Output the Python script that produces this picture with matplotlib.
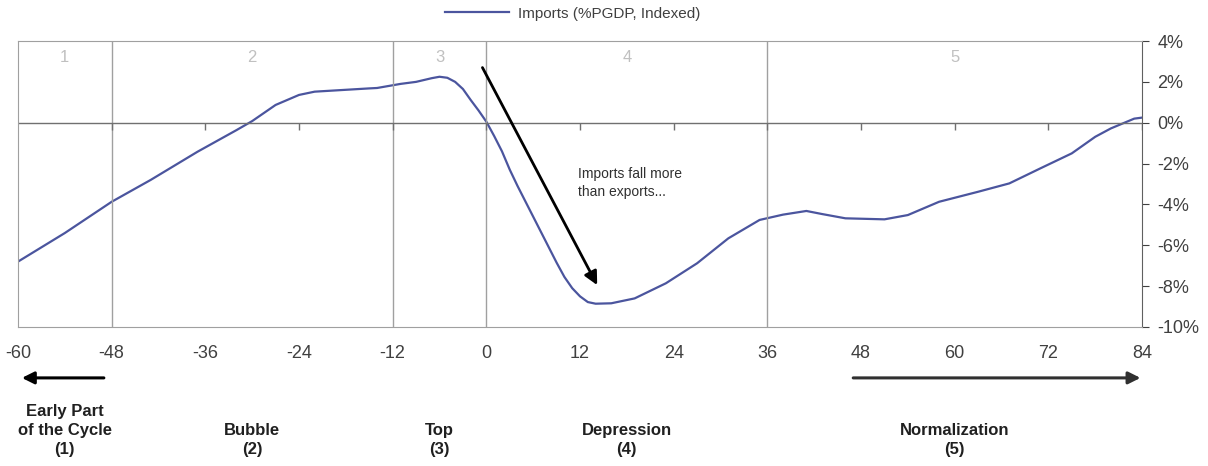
import matplotlib
matplotlib.use('Agg')
import matplotlib.pyplot as plt

# months relative to the top of the cycle, imports (%PGDP, indexed)
months = [-60, -54, -48, -43, -37, -32, -30, -27, -24, -22, -15, -14, -11, -9, -7, -6, -5, -4, -3, -2, -1,
          0, 1, 2, 3, 4, 5, 7, 8, 9, 10, 11, 12, 13, 14, 16, 19, 23, 27, 31, 35, 38, 41, 43, 46, 51, 54, 58, 63,
          67, 71, 75, 78, 80, 83, 84]
imports = [-6.8, -5.4, -3.87, -2.8, -1.42, -0.36, 0.08, 0.87, 1.36, 1.52, 1.68, 1.7, 1.9, 2.0, 2.18, 2.25, 2.2, 2.0, 1.65, 1.11, 0.6,
           0.05, -0.65, -1.4, -2.3, -3.1, -3.85, -5.35, -6.1, -6.85, -7.55, -8.1, -8.5, -8.78, -8.86, -8.84, -8.6, -7.86, -6.88, -5.66, -4.76, -4.5, -4.32, -4.47, -4.68, -4.73, -4.52, -3.87, -3.38,
           -2.97, -2.23, -1.5, -0.69, -0.28, 0.2, 0.25]

xticks = [-60, -48, -36, -24, -12, 0, 12, 24, 36, 48, 60, 72, 84]
yticks = [4, 2, 0, -2, -4, -6, -8, -10]
phase_lines = [-48, -12, 0, 36]
phase_nums = ['1', '2', '3', '4', '5']
phase_mid = [-54, -30, -6, 18, 60]
phase_names = ['Early Part\nof the Cycle\n(1)', 'Bubble\n(2)', 'Top\n(3)', 'Depression\n(4)', 'Normalization\n(5)']

plt.rcParams['font.family'] = ['Liberation Sans', 'DejaVu Sans']

LINE = '#4b559e'
GRID = '#a0a0a0'

fig = plt.figure(figsize=(12.08, 4.66), dpi=100)
ax = fig.add_axes([0.0149, 0.2983, 0.9305, 0.6137])

ax.plot(months, imports, color=LINE, lw=1.6, label='Imports (%PGDP, Indexed)',
        solid_joinstyle='round')

ax.set_xlim(-60, 84)
ax.set_ylim(-10, 4)

# phase separators and zero line
for x in phase_lines:
    ax.axvline(x, color=GRID, lw=1)
ax.axhline(0, color='#707070', lw=1)
ax.plot(xticks[1:], [0] * (len(xticks) - 1), ls='none', marker=3, ms=5,
        color='#707070', mew=1)

for lab, x in zip(phase_nums, phase_mid):
    ax.text(x, 3.2, lab, ha='center', va='center', color='#c0c0c0', fontsize=12)

for side in ['top', 'left', 'bottom']:
    ax.spines[side].set_color(GRID)
ax.spines['right'].set_color('#606060')

ax.yaxis.tick_right()
ax.set_yticks(yticks)
ax.set_yticklabels([f'{v}%' for v in yticks])
ax.tick_params(axis='y', direction='out', length=5, pad=6, labelsize=13,
               colors='#404040')
ax.set_xticks(xticks)
ax.set_xticklabels([str(v) for v in xticks])
ax.tick_params(axis='x', length=0, pad=13, labelsize=13, colors='#404040')

# annotation
ax.annotate('', xy=(14.2, -7.95), xytext=(-0.5, 2.7),
            arrowprops=dict(arrowstyle='-|>', color='black', lw=2,
                            mutation_scale=20, shrinkA=0, shrinkB=0))
ax.text(11.7, -2.95, 'Imports fall more\nthan exports...', ha='left', va='center',
        fontsize=10, color='#303030', linespacing=1.4)

# bottom phase arrows and names
tr = ax.get_xaxis_transform()
ax.annotate('', xy=(-59.5, -0.178), xytext=(-49, -0.178), xycoords=tr, textcoords=tr,
            arrowprops=dict(arrowstyle='-|>', color='black', lw=2.2,
                            mutation_scale=18, shrinkA=0, shrinkB=0), annotation_clip=False)
ax.annotate('', xy=(83.8, -0.178), xytext=(47, -0.178), xycoords=tr, textcoords=tr,
            arrowprops=dict(arrowstyle='-|>', color='#303030', lw=2.2,
                            mutation_scale=18, shrinkA=0, shrinkB=0), annotation_clip=False)
for lab, x in zip(phase_names, phase_mid):
    ax.text(x, -0.455, lab, transform=tr, ha='center', va='bottom', fontsize=12,
            fontweight='bold', color='#202020', linespacing=1.35)

fig.legend(loc='upper center', bbox_to_anchor=(0.474, 1.015), frameon=False,
           fontsize=11, handlelength=4.2, handletextpad=0.6, labelcolor='#404040')

fig.savefig('out.png', dpi=100)
